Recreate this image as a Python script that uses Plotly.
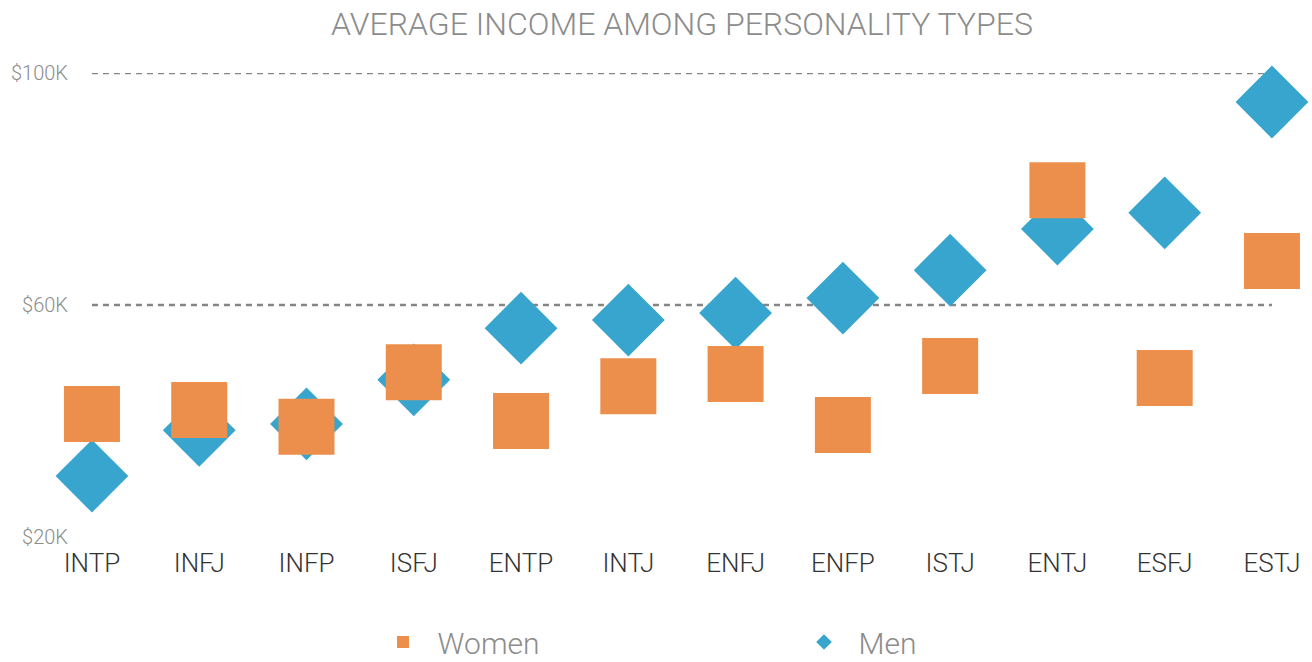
import plotly.graph_objects as go

# Palette
ORANGE = "#EC8F4C"
BLUE = "#37A5CE"
GRID = "#858585"
MUTED = "#8c8c8c"
DARK = "#333333"
FONT = "'Helvetica Neue', Roboto, 'Liberation Sans', Arial, sans-serif"

# Data (average income in $K)
types = ["INTP", "INFJ", "INFP", "ISFJ", "ENTP", "INTJ",
         "ENFJ", "ENFP", "ISTJ", "ENTJ", "ESFJ", "ESTJ"]
women = [41.2, 41.9, 39.0, 48.4, 40.0, 46.0, 48.1, 39.3, 49.5, 79.8, 47.4, 67.6]
men = [30.5, 38.4, 39.5, 47.1, 56.0, 57.4, 58.6, 61.2, 66.0, 73.1, 75.9, 95.0]

grid_levels = [60, 100]
y_ticks = [20, 60, 100]
y_tick_text = ["$20K", "$60K", "$100K"]

fig = go.Figure()

# dashed reference lines running from first to last category
for lvl in grid_levels:
    fig.add_trace(go.Scatter(
        x=[types[0], types[-1]], y=[lvl, lvl],
        mode="lines",
        line=dict(color=GRID, width=2.5, dash="6px,5px"),
        showlegend=False, hoverinfo="skip",
    ))

fig.add_trace(go.Scatter(
    x=types, y=men, name="  Men", mode="markers",
    marker=dict(symbol="diamond", size=56, color=BLUE, line=dict(width=0)),
    cliponaxis=False,
))
fig.add_trace(go.Scatter(
    x=types, y=women, name="  Women", mode="markers",
    marker=dict(symbol="square", size=56, color=ORANGE, line=dict(width=0)),
    cliponaxis=False,
))

fig.update_layout(
    width=1312, height=662,
    paper_bgcolor="white", plot_bgcolor="white",
    font=dict(family=FONT, color=MUTED),
    title=dict(text="AVERAGE INCOME AMONG PERSONALITY TYPES",
               x=682 / 1312, xanchor="center", y=1 - 24 / 662, yanchor="middle",
               font=dict(size=32, color=MUTED, weight=300)),
    margin=dict(l=75, r=10, t=73, b=125),
    xaxis=dict(
        type="category", categoryorder="array", categoryarray=types,
        range=[-0.158, 11.28],
        showgrid=False, zeroline=False, showline=False, ticks="",
        tickfont=dict(size=26, color=DARK, weight=300),
        ticklabelstandoff=8,
    ),
    yaxis=dict(
        range=[20, 100], tickvals=y_ticks, ticktext=y_tick_text,
        showgrid=False, zeroline=False, showline=False, ticks="",
        tickfont=dict(size=20, color=MUTED, weight=300),
        ticklabelstandoff=6,
    ),
    legend=dict(
        orientation="h", traceorder="reversed",
        xref="container", yref="container",
        x=383 / 1312, xanchor="left", y=1 - 642 / 662, yanchor="middle",
        entrywidth=376, entrywidthmode="pixels",
        font=dict(size=30, color=MUTED, weight=300),
        itemsizing="constant",
    ),
)

# drop the default 8px page margin so the figure fills the window
fig.write_html("out.html", config={"displayModeBar": False},
               post_script="document.body.style.margin='0';")
